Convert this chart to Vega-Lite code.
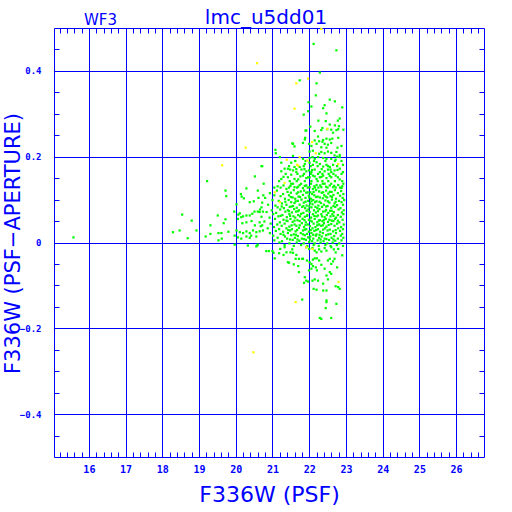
{
"$schema":"https://vega.github.io/schema/vega-lite/v6.json",
"width":430,"height":429,
"autosize":"none",
"padding":{"left":54,"top":28,"right":28,"bottom":55},
"background":"white",
"title":{"text":"lmc_u5dd01","fontSize":20,"font":"DejaVu Sans","fontWeight":"normal","color":"#0000ff","anchor":"middle","frame":"group","baseline":"alphabetic","offset":4,"dx":-3,"dy":36},
"config":{"view":{"stroke":"#0000ff","strokeWidth":1},"axis":{"domain":false,"tickColor":"#0000ff","gridColor":"#0000ff","labelColor":"#0000ff","titleColor":"#0000ff","tickWidth":1,"gridWidth":1}},
"datasets":{
"green":[
{"x":15.58,"y":0.012},{"x":18.29,"y":0.024},{"x":18.47,"y":0.028},{"x":18.54,"y":0.065},{"x":18.69,"y":0.010},{"x":18.80,"y":0.051},{"x":18.93,"y":0.028},{"x":19.18,"y":0.014},{"x":19.22,"y":0.143},{"x":19.31,"y":0.040},{"x":19.31,"y":0.020},{"x":19.51,"y":0.063},{"x":19.53,"y":0.022},{"x":19.61,"y":0.022},{"x":19.53,"y":0.005},{"x":19.62,"y":0.009},{"x":19.67,"y":0.045},{"x":19.72,"y":0.121},{"x":19.74,"y":0.108},{"x":19.72,"y":0.054},{"x":19.80,"y":0.025},
{"x":19.96,"y":0.072},{"x":20.02,"y":0.089},{"x":20.14,"y":0.113},{"x":20.16,"y":0.107},{"x":20.22,"y":0.103},{"x":20.29,"y":0.126},{"x":20.38,"y":0.094},{"x":20.49,"y":0.096},{"x":20.52,"y":0.154},{"x":20.60,"y":0.121},{"x":20.70,"y":0.178},{"x":20.70,"y":0.082},{"x":20.74,"y":0.072},{"x":20.65,"y":0.071},{"x":20.60,"y":0.072},{"x":20.51,"y":0.072},{"x":20.11,"y":0.068},{"x":20.07,"y":0.065},{"x":20.20,"y":0.061},{"x":20.15,"y":0.059},{"x":20.29,"y":0.063},{"x":20.38,"y":0.063},{"x":20.45,"y":0.067},{"x":20.06,"y":0.055},{"x":20.18,"y":0.045},{"x":20.29,"y":0.047},{"x":20.43,"y":0.050},{"x":20.52,"y":0.040},{"x":20.65,"y":0.047},{"x":20.72,"y":0.040},{"x":20.02,"y":0.028},{"x":20.11,"y":0.024},{"x":20.20,"y":0.022},{"x":20.29,"y":0.026},{"x":20.38,"y":0.022},{"x":20.47,"y":0.028},{"x":20.56,"y":0.024},{"x":20.65,"y":0.026},{"x":20.74,"y":0.028},{"x":19.97,"y":0.016},{"x":20.06,"y":0.012},{"x":20.15,"y":0.009},{"x":20.29,"y":0.014},{"x":20.38,"y":0.011},{"x":20.42,"y":0.016},{"x":20.56,"y":0.014},{"x":19.97,"y":-0.005},{"x":20.33,"y":-0.007},{"x":20.56,"y":-0.009},{"x":20.60,"y":-0.005},{"x":20.76,"y":0.137},{"x":20.62,"y":0.104},{"x":20.75,"y":0.110},
{"x":22.12,"y":0.463},{"x":22.74,"y":0.448},{"x":22.29,"y":0.396},{"x":21.74,"y":0.378},{"x":22.20,"y":0.371},{"x":22.18,"y":0.343},{"x":22.56,"y":0.333},{"x":22.70,"y":0.329},{"x":21.98,"y":0.327},{"x":22.06,"y":0.317},{"x":22.42,"y":0.320},{"x":22.38,"y":0.313},{"x":22.90,"y":0.315},{"x":21.97,"y":0.306},{"x":21.85,"y":0.298},{"x":22.47,"y":0.301},{"x":22.83,"y":0.289},{"x":22.25,"y":0.284},{"x":22.45,"y":0.283},{"x":22.78,"y":0.284},{"x":22.03,"y":0.270},{"x":22.36,"y":0.267},{"x":22.56,"y":0.275},{"x":22.70,"y":0.273},{"x":22.79,"y":0.264},{"x":22.49,"y":0.264},{"x":21.90,"y":0.261},
{"x":21.92,"y":0.261},{"x":22.15,"y":0.260},{"x":22.33,"y":0.262},{"x":22.60,"y":0.263},{"x":22.74,"y":0.262},{"x":22.81,"y":0.271},{"x":22.93,"y":0.263},{"x":22.65,"y":0.256},{"x":21.89,"y":0.244},{"x":21.88,"y":0.240},{"x":22.24,"y":0.247},{"x":22.38,"y":0.239},{"x":22.47,"y":0.242},{"x":22.56,"y":0.240},{"x":22.63,"y":0.242},{"x":22.79,"y":0.244},{"x":22.15,"y":0.238},{"x":22.27,"y":0.236},{"x":22.36,"y":0.235},{"x":21.56,"y":0.230},{"x":21.83,"y":0.232},{"x":21.995,"y":0.230},{"x":22.20,"y":0.230},{"x":22.42,"y":0.230},{"x":22.51,"y":0.228},{"x":22.60,"y":0.232},{"x":22.88,"y":0.225},{"x":22.77,"y":0.221},{"x":22.06,"y":0.225},{"x":22.33,"y":0.222},{"x":22.47,"y":0.221},{"x":22.74,"y":0.211},{"x":22.83,"y":0.204},{"x":21.08,"y":0.216},{"x":21.09,"y":0.208},{"x":22.01,"y":0.212},{"x":22.10,"y":0.214},{"x":22.27,"y":0.207},{"x":22.33,"y":0.211},{"x":22.42,"y":0.208},{"x":22.51,"y":0.212},{"x":22.60,"y":0.209},{"x":22.69,"y":0.203},{"x":22.76,"y":0.200},{"x":21.20,"y":0.199},{"x":21.83,"y":0.195},{"x":22.01,"y":0.197},{"x":22.09,"y":0.199},{"x":22.15,"y":0.195},{"x":22.24,"y":0.199},{"x":22.38,"y":0.197},{"x":22.47,"y":0.195},{"x":22.60,"y":0.195},{"x":22.72,"y":0.193},{"x":22.83,"y":0.199},{"x":20.72,"y":0.178},{"x":21.24,"y":0.186},{"x":21.51,"y":0.186},{"x":21.74,"y":0.176},{"x":21.88,"y":0.183},{"x":22.01,"y":0.186},{"x":22.10,"y":0.181},{"x":22.20,"y":0.187},{"x":22.29,"y":0.183},{"x":22.38,"y":0.177},{"x":22.47,"y":0.181},{"x":22.56,"y":0.176},{"x":22.65,"y":0.181},{"x":22.92,"y":0.181},{"x":21.33,"y":0.172},{"x":21.56,"y":0.168},{"x":21.65,"y":0.164},{"x":21.79,"y":0.170},{"x":21.92,"y":0.166},{"x":21.995,"y":0.168},{"x":22.06,"y":0.164},{"x":22.15,"y":0.170},{"x":22.29,"y":0.164},{"x":22.42,"y":0.166},{"x":22.51,"y":0.170},{"x":22.60,"y":0.164},{"x":22.69,"y":0.168},{"x":22.83,"y":0.172},{"x":22.92,"y":0.164},{"x":21.24,"y":0.148},{"x":21.42,"y":0.152},{"x":21.51,"y":0.158},{"x":21.60,"y":0.148},{"x":21.70,"y":0.147},{"x":21.83,"y":0.156},{"x":21.92,"y":0.150},{"x":22.01,"y":0.152},{"x":22.10,"y":0.156},{"x":22.20,"y":0.148},{"x":22.29,"y":0.152},{"x":22.38,"y":0.156},{"x":22.47,"y":0.150},{"x":22.60,"y":0.152},{"x":22.72,"y":0.156},{"x":22.83,"y":0.147},{"x":21.30,"y":0.133},{"x":21.38,"y":0.125},{"x":21.51,"y":0.137},{"x":21.60,"y":0.129},{"x":21.74,"y":0.134},{"x":21.83,"y":0.127},{"x":21.92,"y":0.133},{"x":22.01,"y":0.129},{"x":22.10,"y":0.125},{"x":22.20,"y":0.134},{"x":22.33,"y":0.129},{"x":22.42,"y":0.137},{"x":22.56,"y":0.133},{"x":22.65,"y":0.129},{"x":22.79,"y":0.134},{"x":22.88,"y":0.127},{"x":22.93,"y":0.137},
{"x":21.24,"y":0.166},{"x":21.42,"y":0.172},{"x":21.60,"y":0.176},{"x":21.65,"y":0.171},{"x":21.56,"y":0.202},{"x":21.54,"y":0.231},{"x":21.60,"y":0.224},
{"x":21.62,"y":0.190},{"x":21.90,"y":0.190},{"x":22.13,"y":0.190},{"x":22.44,"y":0.190},{"x":22.70,"y":0.190},{"x":22.88,"y":0.190},{"x":21.45,"y":0.178},{"x":21.85,"y":0.178},{"x":22.04,"y":0.178},{"x":22.23,"y":0.178},{"x":22.51,"y":0.178},{"x":22.76,"y":0.178},{"x":21.36,"y":0.160},{"x":21.68,"y":0.160},{"x":21.86,"y":0.160},{"x":22.04,"y":0.160},{"x":22.24,"y":0.160},{"x":22.36,"y":0.160},{"x":22.53,"y":0.160},{"x":22.66,"y":0.160},{"x":22.88,"y":0.160},{"x":21.18,"y":0.143},{"x":21.47,"y":0.143},{"x":21.66,"y":0.143},{"x":21.88,"y":0.143},{"x":22.06,"y":0.143},{"x":22.23,"y":0.143},{"x":22.36,"y":0.143},{"x":22.52,"y":0.143},{"x":22.70,"y":0.143},{"x":22.90,"y":0.143},{"x":21.05,"y":0.128},{"x":21.22,"y":0.128},{"x":21.45,"y":0.128},{"x":21.67,"y":0.128},{"x":21.96,"y":0.128},{"x":22.16,"y":0.128},{"x":22.25,"y":0.128},{"x":22.50,"y":0.128},{"x":22.72,"y":0.128},{"x":22.84,"y":0.128},{"x":21.56,"y":0.137},{"x":21.78,"y":0.137},{"x":22.05,"y":0.137},{"x":22.37,"y":0.137},{"x":22.60,"y":0.137},
{"x":21.14,"y":0.131},{"x":21.49,"y":0.132},{"x":21.70,"y":0.130},{"x":21.88,"y":0.132},{"x":22.14,"y":0.131},{"x":22.30,"y":0.133},{"x":22.46,"y":0.130},{"x":22.68,"y":0.132},{"x":22.90,"y":0.131},
{"x":21.30,"y":0.153},{"x":21.76,"y":0.154},{"x":21.97,"y":0.152},{"x":22.15,"y":0.154},{"x":22.33,"y":0.153},{"x":22.56,"y":0.155},{"x":22.78,"y":0.152},
{"x":21.48,"y":0.170},{"x":21.87,"y":0.171},{"x":22.08,"y":0.169},{"x":22.34,"y":0.171},{"x":22.58,"y":0.170},{"x":22.77,"y":0.169},
{"x":21.12,"y":0.121},{"x":21.41,"y":0.118},{"x":21.58,"y":0.122},{"x":21.77,"y":0.119},{"x":21.86,"y":0.121},{"x":22.03,"y":0.117},{"x":22.19,"y":0.122},{"x":22.27,"y":0.119},{"x":22.46,"y":0.121},{"x":22.61,"y":0.118},{"x":22.70,"y":0.122},{"x":22.87,"y":0.120},
{"x":20.93,"y":0.115},{"x":21.29,"y":0.113},{"x":21.50,"y":0.116},{"x":21.66,"y":0.114},{"x":21.92,"y":0.116},{"x":22.08,"y":0.113},{"x":22.34,"y":0.116},{"x":22.52,"y":0.114},{"x":22.78,"y":0.115},{"x":22.93,"y":0.113},
{"x":21.05,"y":0.110},{"x":21.22,"y":0.108},{"x":21.45,"y":0.110},{"x":21.71,"y":0.107},{"x":21.83,"y":0.111},{"x":21.99,"y":0.109},{"x":22.14,"y":0.110},{"x":22.23,"y":0.107},{"x":22.41,"y":0.110},{"x":22.58,"y":0.108},{"x":22.66,"y":0.111},{"x":22.84,"y":0.109},
{"x":20.80,"y":0.104},{"x":21.34,"y":0.102},{"x":21.55,"y":0.105},{"x":21.62,"y":0.102},{"x":21.90,"y":0.104},{"x":22.05,"y":0.102},{"x":22.29,"y":0.105},{"x":22.37,"y":0.103},{"x":22.49,"y":0.105},{"x":22.73,"y":0.102},{"x":22.91,"y":0.104},
{"x":21.00,"y":0.099},{"x":21.17,"y":0.097},{"x":21.44,"y":0.099},{"x":21.69,"y":0.097},{"x":21.79,"y":0.100},{"x":21.97,"y":0.097},{"x":22.11,"y":0.099},{"x":22.20,"y":0.096},{"x":22.44,"y":0.098},{"x":22.62,"y":0.100},{"x":22.81,"y":0.097},{"x":22.95,"y":0.099},
{"x":20.72,"y":0.093},{"x":21.26,"y":0.091},{"x":21.51,"y":0.094},{"x":21.60,"y":0.092},{"x":21.85,"y":0.093},{"x":22.02,"y":0.091},{"x":22.16,"y":0.094},{"x":22.32,"y":0.092},{"x":22.55,"y":0.093},{"x":22.69,"y":0.091},{"x":22.88,"y":0.094},
{"x":20.88,"y":0.088},{"x":21.08,"y":0.086},{"x":21.38,"y":0.088},{"x":21.56,"y":0.085},{"x":21.74,"y":0.088},{"x":21.93,"y":0.086},{"x":22.09,"y":0.089},{"x":22.25,"y":0.086},{"x":22.40,"y":0.088},{"x":22.50,"y":0.085},{"x":22.76,"y":0.087},{"x":22.92,"y":0.088},
{"x":21.14,"y":0.082},{"x":21.31,"y":0.080},{"x":21.47,"y":0.083},{"x":21.66,"y":0.081},{"x":21.81,"y":0.083},{"x":21.89,"y":0.080},{"x":22.06,"y":0.082},{"x":22.22,"y":0.080},{"x":22.35,"y":0.083},{"x":22.60,"y":0.081},{"x":22.71,"y":0.083},{"x":22.85,"y":0.080},
{"x":20.66,"y":0.077},{"x":20.98,"y":0.075},{"x":21.21,"y":0.077},{"x":21.42,"y":0.075},{"x":21.59,"y":0.078},{"x":21.72,"y":0.075},{"x":21.98,"y":0.077},{"x":22.13,"y":0.075},{"x":22.28,"y":0.078},{"x":22.46,"y":0.076},{"x":22.57,"y":0.074},{"x":22.80,"y":0.077},{"x":22.94,"y":0.075},
{"x":20.84,"y":0.071},{"x":21.10,"y":0.069},{"x":21.35,"y":0.072},{"x":21.53,"y":0.070},{"x":21.64,"y":0.072},{"x":21.84,"y":0.069},{"x":22.01,"y":0.071},{"x":22.18,"y":0.070},{"x":22.38,"y":0.072},{"x":22.52,"y":0.069},{"x":22.67,"y":0.071},{"x":22.89,"y":0.070},
{"x":21.02,"y":0.066},{"x":21.27,"y":0.064},{"x":21.46,"y":0.066},{"x":21.70,"y":0.064},{"x":21.78,"y":0.067},{"x":21.95,"y":0.064},{"x":22.10,"y":0.066},{"x":22.24,"y":0.063},{"x":22.33,"y":0.066},{"x":22.48,"y":0.064},{"x":22.63,"y":0.066},{"x":22.78,"y":0.064},{"x":22.93,"y":0.066},
{"x":20.70,"y":0.060},{"x":20.92,"y":0.058},{"x":21.16,"y":0.061},{"x":21.39,"y":0.059},{"x":21.57,"y":0.061},{"x":21.62,"y":0.058},{"x":21.88,"y":0.060},{"x":22.05,"y":0.058},{"x":22.20,"y":0.061},{"x":22.42,"y":0.059},{"x":22.58,"y":0.061},{"x":22.73,"y":0.058},{"x":22.86,"y":0.060},
{"x":21.07,"y":0.055},{"x":21.30,"y":0.053},{"x":21.49,"y":0.055},{"x":21.68,"y":0.052},{"x":21.82,"y":0.055},{"x":21.99,"y":0.053},{"x":22.15,"y":0.055},{"x":22.29,"y":0.052},{"x":22.45,"y":0.055},{"x":22.55,"y":0.053},{"x":22.70,"y":0.055},{"x":22.91,"y":0.053},
{"x":20.78,"y":0.049},{"x":21.20,"y":0.047},{"x":21.41,"y":0.050},{"x":21.55,"y":0.048},{"x":21.74,"y":0.050},{"x":21.91,"y":0.047},{"x":22.07,"y":0.049},{"x":22.22,"y":0.047},{"x":22.36,"y":0.050},{"x":22.51,"y":0.048},{"x":22.66,"y":0.050},{"x":22.82,"y":0.047},
{"x":20.95,"y":0.044},{"x":21.13,"y":0.042},{"x":21.33,"y":0.044},{"x":21.60,"y":0.042},{"x":21.80,"y":0.045},{"x":21.96,"y":0.042},{"x":22.12,"y":0.044},{"x":22.27,"y":0.042},{"x":22.40,"y":0.045},{"x":22.60,"y":0.043},{"x":22.76,"y":0.044},{"x":22.94,"y":0.042},
{"x":20.68,"y":0.038},{"x":21.04,"y":0.036},{"x":21.25,"y":0.039},{"x":21.46,"y":0.037},{"x":21.65,"y":0.039},{"x":21.86,"y":0.036},{"x":22.02,"y":0.038},{"x":22.17,"y":0.036},{"x":22.32,"y":0.039},{"x":22.47,"y":0.037},{"x":22.69,"y":0.039},{"x":22.87,"y":0.036},
{"x":20.87,"y":0.033},{"x":21.18,"y":0.031},{"x":21.38,"y":0.033},{"x":21.53,"y":0.031},{"x":21.72,"y":0.034},{"x":21.92,"y":0.031},{"x":22.09,"y":0.033},{"x":22.24,"y":0.031},{"x":22.43,"y":0.033},{"x":22.56,"y":0.030},{"x":22.79,"y":0.033},{"x":22.92,"y":0.031},
{"x":21.09,"y":0.027},{"x":21.29,"y":0.025},{"x":21.48,"y":0.028},{"x":21.63,"y":0.026},{"x":21.83,"y":0.028},{"x":21.99,"y":0.025},{"x":22.14,"y":0.027},{"x":22.30,"y":0.025},{"x":22.50,"y":0.028},{"x":22.65,"y":0.026},{"x":22.84,"y":0.027},
{"x":20.93,"y":0.022},{"x":21.22,"y":0.020},{"x":21.42,"y":0.022},{"x":21.58,"y":0.019},{"x":21.77,"y":0.022},{"x":21.94,"y":0.020},{"x":22.06,"y":0.022},{"x":22.20,"y":0.019},{"x":22.37,"y":0.022},{"x":22.58,"y":0.020},{"x":22.73,"y":0.022},{"x":22.90,"y":0.020},
{"x":21.02,"y":0.016},{"x":21.34,"y":0.014},{"x":21.51,"y":0.017},{"x":21.69,"y":0.015},{"x":21.88,"y":0.017},{"x":22.03,"y":0.014},{"x":22.18,"y":0.016},{"x":22.34,"y":0.014},{"x":22.46,"y":0.017},{"x":22.68,"y":0.015},{"x":22.86,"y":0.016},
{"x":21.14,"y":0.011},{"x":21.40,"y":0.009},{"x":21.61,"y":0.011},{"x":21.80,"y":0.009},{"x":21.97,"y":0.012},{"x":22.11,"y":0.009},{"x":22.27,"y":0.011},{"x":22.42,"y":0.009},{"x":22.61,"y":0.011},{"x":22.78,"y":0.009},{"x":22.93,"y":0.011},
{"x":21.05,"y":0.005},{"x":21.26,"y":0.003},{"x":21.55,"y":0.006},{"x":21.73,"y":0.004},{"x":21.91,"y":0.006},{"x":22.08,"y":0.003},{"x":22.23,"y":0.005},{"x":22.39,"y":0.003},{"x":22.54,"y":0.006},{"x":22.71,"y":0.004},{"x":22.88,"y":0.005},
{"x":21.19,"y":0.000},{"x":21.46,"y":-0.002},{"x":21.66,"y":0.000},{"x":21.85,"y":-0.002},{"x":22.00,"y":0.001},{"x":22.15,"y":-0.002},{"x":22.31,"y":0.000},{"x":22.49,"y":-0.002},{"x":22.64,"y":0.000},{"x":22.82,"y":-0.002},
{"x":21.33,"y":-0.006},{"x":21.58,"y":-0.008},{"x":21.78,"y":-0.006},{"x":21.95,"y":-0.008},{"x":22.12,"y":-0.006},{"x":22.26,"y":-0.008},{"x":22.44,"y":-0.006},{"x":22.58,"y":-0.008},{"x":22.75,"y":-0.006},{"x":22.92,"y":-0.008},
{"x":21.70,"y":0.117},{"x":21.96,"y":0.117},{"x":22.12,"y":0.118},{"x":22.38,"y":0.117},{"x":22.56,"y":0.118},
{"x":21.50,"y":0.106},{"x":21.75,"y":0.106},{"x":22.00,"y":0.105},{"x":22.19,"y":0.106},{"x":22.45,"y":0.107},{"x":22.62,"y":0.106},
{"x":21.35,"y":0.095},{"x":21.63,"y":0.096},{"x":21.90,"y":0.095},{"x":22.06,"y":0.096},{"x":22.28,"y":0.095},{"x":22.51,"y":0.096},{"x":22.72,"y":0.095},
{"x":21.25,"y":0.084},{"x":21.52,"y":0.084},{"x":21.84,"y":0.085},{"x":22.00,"y":0.084},{"x":22.17,"y":0.083},{"x":22.46,"y":0.084},{"x":22.66,"y":0.085},
{"x":21.45,"y":0.073},{"x":21.69,"y":0.073},{"x":21.93,"y":0.074},{"x":22.24,"y":0.073},{"x":22.44,"y":0.073},{"x":22.61,"y":0.074},
{"x":21.22,"y":0.062},{"x":21.48,"y":0.062},{"x":21.75,"y":0.061},{"x":21.94,"y":0.062},{"x":22.14,"y":0.062},{"x":22.35,"y":0.061},{"x":22.66,"y":0.062},
{"x":21.38,"y":0.051},{"x":21.60,"y":0.051},{"x":21.87,"y":0.052},{"x":22.03,"y":0.051},{"x":22.26,"y":0.051},{"x":22.40,"y":0.052},{"x":22.61,"y":0.051},{"x":22.78,"y":0.051},
{"x":21.52,"y":0.040},{"x":21.74,"y":0.040},{"x":21.90,"y":0.041},{"x":22.22,"y":0.040},{"x":22.37,"y":0.040},{"x":22.53,"y":0.041},
{"x":21.43,"y":0.029},{"x":21.67,"y":0.029},{"x":21.88,"y":0.030},{"x":22.04,"y":0.029},{"x":22.19,"y":0.029},{"x":22.38,"y":0.030},{"x":22.72,"y":0.029},
{"x":21.30,"y":0.018},{"x":21.64,"y":0.018},{"x":21.83,"y":0.019},{"x":22.11,"y":0.018},{"x":22.28,"y":0.018},{"x":22.52,"y":0.019},
{"x":21.48,"y":0.007},{"x":21.68,"y":0.007},{"x":21.86,"y":0.008},{"x":22.02,"y":0.007},{"x":22.31,"y":0.007},{"x":22.47,"y":0.008},{"x":22.66,"y":0.007},
{"x":20.83,"y":-0.020},{"x":21.00,"y":-0.020},{"x":21.03,"y":-0.024},{"x":21.21,"y":-0.015},{"x":21.33,"y":-0.011},{"x":21.38,"y":-0.023},{"x":21.30,"y":-0.029},{"x":21.49,"y":-0.023},{"x":21.54,"y":-0.016},{"x":21.56,"y":-0.024},{"x":21.65,"y":-0.029},{"x":21.63,"y":-0.038},{"x":21.72,"y":-0.038},{"x":21.83,"y":-0.038},{"x":21.92,"y":-0.011},{"x":22.00,"y":-0.015},{"x":22.09,"y":-0.013},{"x":22.15,"y":-0.019},{"x":22.20,"y":-0.023},{"x":22.27,"y":-0.016},{"x":22.33,"y":-0.021},{"x":22.42,"y":-0.013},{"x":22.47,"y":-0.019},{"x":22.60,"y":-0.011},{"x":22.67,"y":-0.016},{"x":22.72,"y":-0.023},{"x":22.79,"y":-0.015},{"x":22.90,"y":-0.030},{"x":21.06,"y":-0.037},{"x":21.45,"y":-0.047},{"x":21.58,"y":-0.051},{"x":21.70,"y":-0.055},{"x":21.72,"y":-0.069},{"x":21.81,"y":-0.038},{"x":21.94,"y":-0.042},{"x":22.01,"y":-0.046},{"x":22.06,"y":-0.050},{"x":22.10,"y":-0.040},{"x":22.15,"y":-0.037},{"x":22.21,"y":-0.037},{"x":22.27,"y":-0.042},{"x":22.33,"y":-0.052},{"x":22.42,"y":-0.061},{"x":22.51,"y":-0.042},{"x":22.56,"y":-0.038},{"x":22.60,"y":-0.050},{"x":22.65,"y":-0.044},{"x":22.69,"y":-0.038},{"x":22.76,"y":-0.058},{"x":21.995,"y":-0.065},{"x":22.06,"y":-0.061},{"x":22.10,"y":-0.055},{"x":22.18,"y":-0.058},{"x":22.21,"y":-0.065},{"x":21.88,"y":-0.081},{"x":21.92,"y":-0.089},{"x":21.97,"y":-0.091},{"x":21.86,"y":-0.094},{"x":22.09,"y":-0.089},{"x":22.15,"y":-0.086},{"x":22.24,"y":-0.089},{"x":22.38,"y":-0.096},{"x":22.47,"y":-0.077},{"x":22.51,"y":-0.086},{"x":22.56,"y":-0.069},{"x":22.60,"y":-0.073},{"x":22.72,"y":-0.102},{"x":22.79,"y":-0.104},{"x":22.83,"y":-0.108},{"x":22.12,"y":-0.108},{"x":22.20,"y":-0.110},{"x":22.38,"y":-0.112},{"x":22.47,"y":-0.112},{"x":21.81,"y":-0.133},{"x":22.47,"y":-0.135},{"x":22.47,"y":-0.139},{"x":22.74,"y":-0.143},{"x":22.45,"y":-0.153},{"x":22.29,"y":-0.176},{"x":22.33,"y":-0.178},{"x":22.60,"y":-0.176},
{"x":20.58,"y":-0.007},{"x":20.90,"y":-0.020},{"x":21.18,"y":-0.025},{"x":21.42,"y":-0.046}
],
"yellow":[
{"x":22.33,"y":0.498},{"x":20.58,"y":0.418},{"x":21.97,"y":0.382},{"x":21.65,"y":0.371},{"x":21.60,"y":0.312},{"x":22.49,"y":0.265},{"x":22.08,"y":0.234},{"x":20.27,"y":0.221},{"x":22.18,"y":0.208},{"x":21.74,"y":0.199},{"x":21.39,"y":0.193},{"x":21.95,"y":0.191},{"x":21.67,"y":0.181},{"x":22.79,"y":0.183},{"x":21.70,"y":0.179},{"x":19.63,"y":0.180},{"x":21.33,"y":0.139},{"x":21.06,"y":0.117},{"x":21.20,"y":0.094},{"x":21.92,"y":-0.011},{"x":22.09,"y":-0.015},{"x":22.80,"y":-0.092},{"x":21.63,"y":-0.139},{"x":20.48,"y":-0.256}
]},
"layer":[
{"data":{"name":"green"},
"mark":{"type":"square","size":5,"filled":true,"opacity":1,"color":"#00ff00"},
"encoding":{
"x":{"field":"x","type":"quantitative","scale":{"domain":[15.05,26.76],"nice":false,"zero":false},
"axis":{"orient":"bottom","values":[15.2,15.4,15.6,15.8,16,16.2,16.4,16.6,16.8,17,17.2,17.4,17.6,17.8,18,18.2,18.4,18.6,18.8,19,19.2,19.4,19.6,19.8,20,20.2,20.4,20.6,20.8,21,21.2,21.4,21.6,21.8,22,22.2,22.4,22.6,22.8,23,23.2,23.4,23.6,23.8,24,24.2,24.4,24.6,24.8,25,25.2,25.4,25.6,25.8,26,26.2,26.4,26.6],
"tickSize":-5,"grid":true,"gridOpacity":{"condition":{"test":"abs(datum.value - round(datum.value)) < 0.01","value":1},"value":0},
"labelExpr":"abs(datum.value - round(datum.value)) < 0.01 ? format(datum.value, 'd') : ''",
"labelFont":"DejaVu Sans Mono","labelFontWeight":"bold","labelFontSize":10,"labelBaseline":"top","labelPadding":12,"labelFlush":false,"labelOverlap":false,
"title":"F336W (PSF)","titleFont":"DejaVu Sans","titleFontWeight":"normal","titleFontSize":22,"titleBaseline":"alphabetic","titleAlign":"center","titleX":215,"titleY":44}},
"y":{"field":"y","type":"quantitative","scale":{"domain":[-0.5,0.5],"nice":false,"zero":false},
"axis":{"orient":"left","values":[-0.45,-0.4,-0.35,-0.3,-0.25,-0.2,-0.15,-0.1,-0.05,0,0.05,0.1,0.15,0.2,0.25,0.3,0.35,0.4,0.45],
"tickSize":-5,"grid":true,"gridOpacity":{"condition":{"test":"abs(datum.value*5 - round(datum.value*5)) < 0.01","value":1},"value":0},
"labelExpr":"abs(datum.value*5 - round(datum.value*5)) < 0.01 ? (abs(datum.value) < 0.001 ? '0' : format(datum.value, '.1f')) : ''",
"labelFont":"DejaVu Sans Mono","labelFontWeight":"bold","labelFontSize":9,"labelPadding":18,"labelFlush":false,"labelOverlap":false,
"title":"F336W (PSF−APERTURE)","titleFont":"DejaVu Sans","titleFontWeight":"normal","titleFontSize":21,"titleBaseline":"alphabetic","titleAlign":"center","titleAngle":-90,"titleX":-35,"titleY":215}}
}},
{"data":{"name":"yellow"},
"mark":{"type":"square","size":5,"filled":true,"opacity":1,"color":"#ffff00"},
"encoding":{
"x":{"field":"x","type":"quantitative","scale":{"domain":[15.05,26.76],"nice":false,"zero":false},
"axis":{"orient":"top","values":[15.2,15.4,15.6,15.8,16,16.2,16.4,16.6,16.8,17,17.2,17.4,17.6,17.8,18,18.2,18.4,18.6,18.8,19,19.2,19.4,19.6,19.8,20,20.2,20.4,20.6,20.8,21,21.2,21.4,21.6,21.8,22,22.2,22.4,22.6,22.8,23,23.2,23.4,23.6,23.8,24,24.2,24.4,24.6,24.8,25,25.2,25.4,25.6,25.8,26,26.2,26.4,26.6],
"tickSize":-5,"grid":false,"labels":false,
"title":"WF3","titleFont":"DejaVu Sans","titleFontWeight":"normal","titleFontSize":15,"titleBaseline":"alphabetic","titleAlign":"center","titleX":46,"titleY":-4}},
"y":{"field":"y","type":"quantitative","scale":{"domain":[-0.5,0.5],"nice":false,"zero":false},
"axis":{"orient":"right","values":[-0.45,-0.4,-0.35,-0.3,-0.25,-0.2,-0.15,-0.1,-0.05,0,0.05,0.1,0.15,0.2,0.25,0.3,0.35,0.4,0.45],
"tickSize":-5,"grid":false,"labels":false,"title":null}}
}}
],
"resolve":{"axis":{"x":"independent","y":"independent"}}
}
